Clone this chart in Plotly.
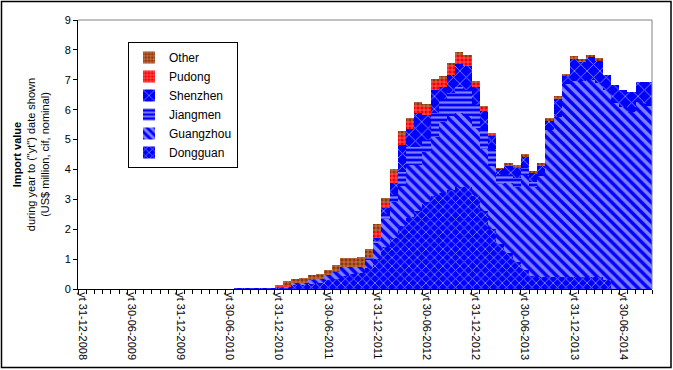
import pandas as pd
import plotly.graph_objects as go

# ---- data -------------------------------------------------------------
months = [f"yt {d.strftime('%d-%m-%Y')}" for d in pd.date_range("2008-12-31", periods=70, freq="ME")]
tick_labels = ["yt 31-12-2008", "yt 30-06-2009", "yt 31-12-2009", "yt 30-06-2010",
               "yt 31-12-2010", "yt 30-06-2011", "yt 31-12-2011", "yt 30-06-2012",
               "yt 31-12-2012", "yt 30-06-2013", "yt 31-12-2013", "yt 30-06-2014"]

dongguan = [0, 0, 0, 0, 0, 0, 0, 0, 0, 0,
            0, 0, 0, 0, 0, 0, 0, 0, 0, 0.03,
            0.03, 0.03, 0.03, 0.03, 0.03, 0.06, 0.12, 0.12, 0.18, 0.20,
            0.30, 0.35, 0.45, 0.50, 0.55, 0.70, 1.00, 1.40, 1.70, 2.10,
            2.40, 2.60, 2.90, 3.10, 3.20, 3.30, 3.40, 3.40, 3.10, 2.60,
            2.00, 1.50, 1.20, 0.90, 0.65, 0.45, 0.40, 0.40, 0.40, 0.40,
            0.40, 0.40, 0.40, 0.40, 0.30, 0, 0, 0, 0, 0]
guangzhou = [0, 0, 0, 0, 0, 0, 0, 0, 0, 0,
             0, 0, 0, 0, 0, 0, 0, 0, 0, 0,
             0, 0, 0, 0, 0, 0.02, 0.07, 0.07, 0.12, 0.12,
             0.17, 0.23, 0.30, 0.25, 0.20, 0.28, 0.55, 0.95, 1.20, 1.35,
             1.75, 1.55, 1.70, 2.00, 2.40, 2.50, 2.50, 2.40, 2.30, 2.10,
             2.10, 2.00, 2.33, 2.50, 3.15, 2.95, 3.40, 4.92, 5.35, 6.45,
             6.55, 6.55, 6.60, 6.50, 6.36, 6.21, 6.10, 5.93, 6.27, 6.11]
jiangmen = [0, 0, 0, 0, 0, 0, 0, 0, 0, 0,
            0, 0, 0, 0, 0, 0, 0, 0, 0, 0,
            0, 0, 0, 0, 0, 0, 0, 0, 0, 0,
            0, 0, 0, 0, 0, 0.05, 0.05, 0.15, 0.25, 0.45,
            0.60, 0.60, 0.40, 0.80, 0.75, 0.75, 0.85, 0.87, 0.75, 0.67,
            0.55, 0.30, 0.28, 0.30, 0.24, 0.19, 0.05, 0, 0, 0,
            0, 0, 0, 0, 0, 0, 0, 0, 0, 0.08]
shenzhen = [0, 0, 0, 0, 0, 0, 0, 0, 0, 0,
            0, 0, 0, 0, 0, 0, 0, 0, 0, 0,
            0, 0, 0, 0, 0, 0, 0, 0, 0, 0,
            0, 0, 0, 0, 0, 0, 0.10, 0.20, 0.40, 0.92,
            0.62, 1.13, 0.83, 0.75, 0.42, 0.62, 0.77, 0.80, 0.62, 0.60,
            0.50, 0.22, 0.31, 0.38, 0.38, 0.28, 0.28, 0.30, 0.62, 0.28,
            0.73, 0.67, 0.75, 0.74, 0.50, 0.61, 0.56, 0.67, 0.66, 0.74]
pudong = [0, 0, 0, 0, 0, 0, 0, 0, 0, 0,
          0, 0, 0, 0, 0, 0, 0, 0, 0, 0,
          0, 0, 0, 0, 0.08, 0.05, 0, 0, 0, 0,
          0, 0, 0, 0, 0, 0, 0.20, 0.17, 0.32, 0.34,
          0.25, 0.27, 0.27, 0.28, 0.27, 0.30, 0.31, 0.29, 0.13, 0.11,
          0.05, 0, 0, 0, 0, 0, 0, 0, 0, 0,
          0, 0, 0, 0, 0, 0, 0, 0, 0, 0]
other = [0, 0, 0, 0, 0, 0, 0, 0, 0, 0,
         0, 0, 0, 0, 0, 0, 0, 0, 0, 0,
         0, 0, 0, 0, 0.02, 0.15, 0.14, 0.18, 0.17, 0.19,
         0.15, 0.22, 0.28, 0.28, 0.31, 0.30, 0.26, 0.18, 0.13, 0.12,
         0.09, 0.09, 0.08, 0.08, 0.08, 0.08, 0.09, 0.07, 0.03, 0.02,
         0.01, 0.02, 0.09, 0.06, 0.10, 0.08, 0.08, 0.09, 0.08, 0.08,
         0.10, 0.06, 0.07, 0.09, 0, 0, 0, 0, 0, 0]

# ---- figure -----------------------------------------------------------
FONT = "Liberation Sans, Arial, sans-serif"
BLUE = "#0000FF"
x = list(range(len(months)))
tick_pos = [months.index(t) for t in tick_labels]

series = [
    ("Dongguan", dongguan, dict(color=BLUE, pattern=dict(shape="x", fgcolor="white", bgcolor=BLUE, size=6, solidity=0.28, fillmode="overlay"))),
    ("Guangzhou", guangzhou, dict(color=BLUE, pattern=dict(shape="\\", fgcolor="white", bgcolor=BLUE, size=7, solidity=0.5, fillmode="overlay"))),
    ("Jiangmen", jiangmen, dict(color=BLUE, pattern=dict(shape="-", fgcolor="white", bgcolor=BLUE, size=5, solidity=0.45, fillmode="overlay"))),
    ("Shenzhen", shenzhen, dict(color=BLUE, pattern=dict(shape="x", fgcolor="white", bgcolor=BLUE, size=9, solidity=0.2, fillmode="overlay"))),
    ("Pudong", pudong, dict(color="#FF0000", pattern=dict(shape="+", fgcolor="white", bgcolor="#FF0000", size=4, solidity=0.3, fillmode="overlay"))),
    ("Other", other, dict(color="#993300", pattern=dict(shape="+", fgcolor="white", bgcolor="#993300", size=4, solidity=0.3, fillmode="overlay"))),
]

fig = go.Figure()
for name, vals, mk in series:
    mk = dict(mk)
    mk["line"] = dict(width=0)
    fig.add_trace(go.Bar(x=x, y=vals, name=name, marker=mk, hovertext=months))

L, R, T, B = 78, 652, 20, 289
PW, PH = R - L, B - T
fig.update_layout(
    width=673, height=370,
    barmode="stack", bargap=0,
    paper_bgcolor="white", plot_bgcolor="white",
    margin=dict(l=L, r=673 - R, t=T, b=370 - B, autoexpand=False),
    font=dict(family=FONT, size=11, color="black"),
    legend=dict(
        traceorder="reversed", x=(128 - L) / PW, y=(B - 42) / PH, xanchor="left", yanchor="top",
        bordercolor="black", borderwidth=1, bgcolor="white",
        font=dict(family=FONT, size=12), tracegroupgap=0, itemwidth=30,
    ),
    showlegend=True,
)
fig.update_xaxes(
    automargin=False,
    range=[-0.5, len(months) - 0.5],
    tickmode="array", tickvals=tick_pos, ticktext=tick_labels,
    tickangle=90, ticks="", showgrid=False, zeroline=False,
    showline=True, linecolor="black", linewidth=1,
    tickfont=dict(family=FONT, size=11),
    minor=dict(tickmode="array", tickvals=[i - 0.5 for i in range(len(months) + 1)],
               ticks="outside", ticklen=4, tickcolor="black", showgrid=False),
)
fig.update_yaxes(
    automargin=False,
    range=[0, 9], dtick=1, ticks="outside", ticklen=4, tickcolor="black",
    showgrid=False, zeroline=False, showline=True, linecolor="black", linewidth=1,
    tickfont=dict(family=FONT, size=11),
    title=dict(text="<b>Import value</b><br>during year to (\"yt\") date shown<br>(US$ million, cif, nominal)",
               font=dict(family=FONT, size=11), standoff=12),
)
# plot-area frame (top / right, grey) and outer chart border
fig.add_shape(type="line", xref="paper", yref="paper", x0=0, x1=1, y0=1, y1=1,
              line=dict(color="#808080", width=1))
fig.add_shape(type="line", xref="paper", yref="paper", x0=1, x1=1, y0=0, y1=1,
              line=dict(color="#808080", width=1))
fig.add_shape(type="rect", xref="paper", yref="paper",
              x0=(1.5 - L) / PW, x1=(671 - L) / PW, y0=(B - 367.5) / PH, y1=(B - 1.5) / PH,
              line=dict(color="black", width=1.5))

fig.write_html("out.html", config={"displayModeBar": False},
               post_script="document.body.style.margin='0';document.body.style.padding='0';")
